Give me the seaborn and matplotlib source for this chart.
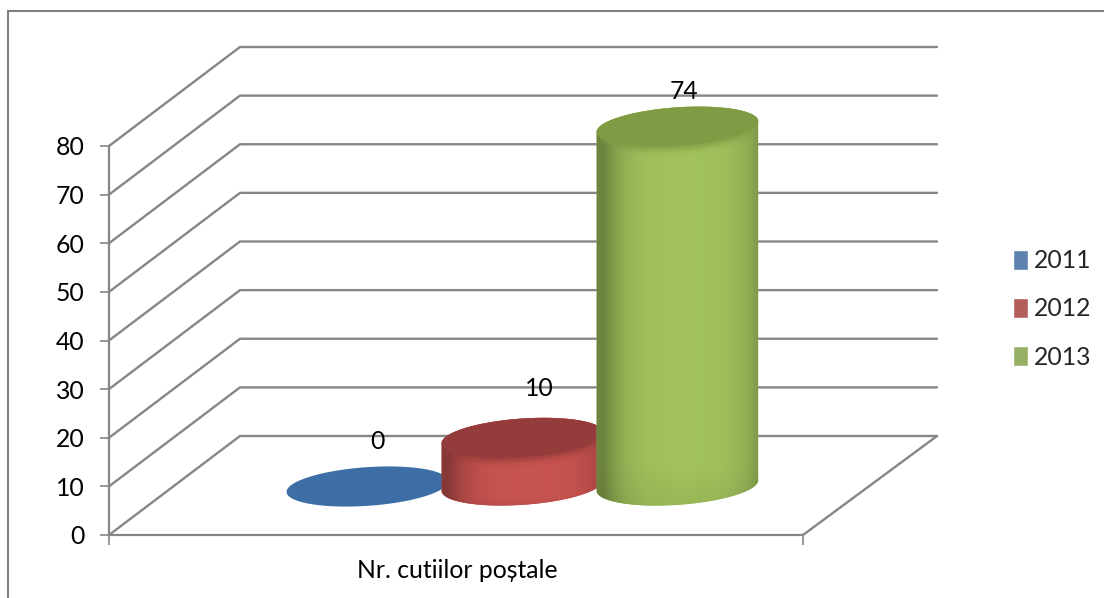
import numpy as np
import pandas as pd
import matplotlib
matplotlib.use("Agg")
import matplotlib.pyplot as plt
import seaborn as sns
from matplotlib.colors import to_rgb
from matplotlib.transforms import Affine2D

# Chart values
group_label = "Nr. cutiilor poștale"
years = ["2011", "2012", "2013"]
counts = [0, 10, 74]
y_ticks = [0, 10, 20, 30, 40, 50, 60, 70, 80]
colors = ["#4f81bd", "#c0504d", "#9bbb59"]
top_colors = ["#3d6ea6", "#943c3b", "#7f9c45"]

# Layout, in pixels
W, H = 1104, 598
DEPTH_X, DEPTH_Y = 131, 99
LINE = "#868686"
TILT = np.radians(4)
FONT = 17.8
label_shift = [(10, -45), (17, -49), (6, -35)]

sns.set_theme(style="white")
plt.rcParams["font.family"] = ["Lato", "DejaVu Sans"]

df = pd.DataFrame({"group": [group_label] * 3, "year": years, "count": counts})

fig = plt.figure(figsize=(W / 100, H / 100), dpi=100, facecolor="white")
ax = fig.add_axes([109 / W, (H - 535) / H, 694 / W, 389 / H], facecolor="none", zorder=1)
over = fig.add_axes([0, 0, 1, 1], facecolor="none", zorder=2)
over.set_xlim(0, W)
over.set_ylim(H, 0)
over.axis("off")

sns.barplot(data=df, x="group", y="count", hue="year", palette=colors,
            width=1, dodge=True, ax=ax, legend=True)
ax.set_xlim(-0.748, 0.744)
ax.set_ylim(0, 80)
ax.set_xlabel("")
ax.set_ylabel("")
ax.set_yticks(y_ticks)
ax.set_xticks([-0.748, 0.744], ["", ""])
ax.set_xticks([0], [group_label], minor=True)
ax.tick_params(axis="y", length=6.5, width=1.2, color=LINE, pad=11, labelsize=FONT, labelcolor="black", left=True)
ax.tick_params(axis="x", which="major", length=7, width=1.2, color=LINE, bottom=True)
ax.tick_params(axis="x", which="minor", length=0, pad=17, labelsize=FONT, labelcolor="black")
sns.despine(ax=ax, top=True, right=True)
for side in ["left", "bottom"]:
    ax.spines[side].set_color(LINE)
    ax.spines[side].set_linewidth(1.6)

handles, labels = ax.get_legend_handles_labels()
ax.legend(handles, labels, loc="center left", bbox_to_anchor=(1013 / W, 1 - 309 / H),
          bbox_transform=fig.transFigure, frameon=False, fontsize=FONT,
          handlelength=0.6, handleheight=0.86, handletextpad=0.24, labelspacing=1.02,
          borderpad=0, borderaxespad=0)


def to_px(x, y):
    return over.transData.inverted().transform(ax.transData.transform((x, y)))


def ring(cx, cy, a, b, n=241):
    t = np.linspace(0, 2 * np.pi, n)
    xs = cx + a * np.cos(t) * np.cos(TILT) + b * np.sin(t) * np.sin(TILT)
    ys = cy - a * np.cos(t) * np.sin(TILT) + b * np.sin(t) * np.cos(TILT)
    return xs, ys


# outer frame of the chart
over.plot([8, 8], [H, 11], color="#7f7f7f", lw=1.5)
over.plot([8, W], [11, 11], color="#7f7f7f", lw=1.5)

# side wall and back wall lines
x0, _ = to_px(ax.get_xlim()[0], 0)
x1, _ = to_px(ax.get_xlim()[1], 0)
for v in y_ticks:
    _, y = to_px(0, v)
    over.plot([x0, x0 + DEPTH_X, x1 + DEPTH_X + 3], [y, y - DEPTH_Y, y - DEPTH_Y],
              color=LINE, lw=1.7, solid_joinstyle="miter")
_, y = to_px(0, 0)
over.plot([x1, x1 + DEPTH_X + 3], [y, y - DEPTH_Y], color=LINE, lw=1.7)

# cylinders, back to front in series order
for i, container in enumerate(ax.containers):
    bar = container[0]
    bar.set_transform(ax.transData + Affine2D().translate(DEPTH_X / 2, DEPTH_Y / 2))
    bar.set_clip_on(False)
    cx, base = to_px(bar.get_x() + bar.get_width() / 2, 0)
    _, top = to_px(0, bar.get_height())
    cx += DEPTH_X / 2
    base -= DEPTH_Y / 2
    top -= DEPTH_Y / 2 - 1
    a, b = 81, 19.3
    z = 3 + i * 10

    xb, yb = ring(cx, base, a, b)
    xt, yt = ring(cx, top, a, b)
    if counts[i] > 0:
        # silhouette: lower half of the base ring, upper half of the top ring
        left, right = np.argmin(xb), np.argmax(xb)
        tb = (np.arange(right, left + 1) if right < left
              else np.r_[np.arange(right, 240), np.arange(0, left + 1)])
        tt = (np.arange(left, right + 1) if left < right
              else np.r_[np.arange(left, 240), np.arange(0, right + 1)])
        px = np.r_[xb[tb], xt[tt]]
        py = np.r_[yb[tb], yt[tt]]
        sil = over.fill(px, py, color=colors[i], lw=0, zorder=z)[0]

        # round shading across the body, dark only near the edges
        u = np.linspace(-1, 1, 200)
        shade = 0.76 + 0.28 * np.clip(1 - np.abs(u - 0.1) ** 5, 0, 1)
        shade = shade * (0.93 + 0.07 * np.clip(1 - np.abs(u - 0.1) ** 2, 0, 1))
        vert = np.linspace(0.0, 1.0, 120)[:, None]
        rim = 1 - 0.06 * np.clip((vert - 0.9) / 0.1, 0, 1)
        rgb = np.clip(np.array(to_rgb(colors[i]))[None, None, :]
                      * (shade[None, :] * rim)[:, :, None], 0, 1)
        img = over.imshow(rgb, extent=(cx - a, cx + a, base + b + 2, top - b - 2),
                          aspect="auto", zorder=z + 1, interpolation="bilinear")
        img.set_clip_path(sil)
        over.set_xlim(0, W)
        over.set_ylim(H, 0)

    # top face with a soft lower edge
    over.fill(xt, yt, color=top_colors[i], lw=0, zorder=z + 2)
    if counts[i] > 0:
        for k, alpha in zip([2, 4, 6, 9], [0.4, 0.28, 0.18, 0.1]):
            xs, ys = ring(cx, top + k, a - 3, b)
            over.fill(xs, ys, color=top_colors[i], alpha=alpha, lw=0, zorder=z + 1.5)
    over.text(cx + label_shift[i][0], top + label_shift[i][1], str(counts[i]),
              ha="center", va="center", fontsize=FONT, color="black", zorder=50)

fig.savefig("out.png", dpi=100)
